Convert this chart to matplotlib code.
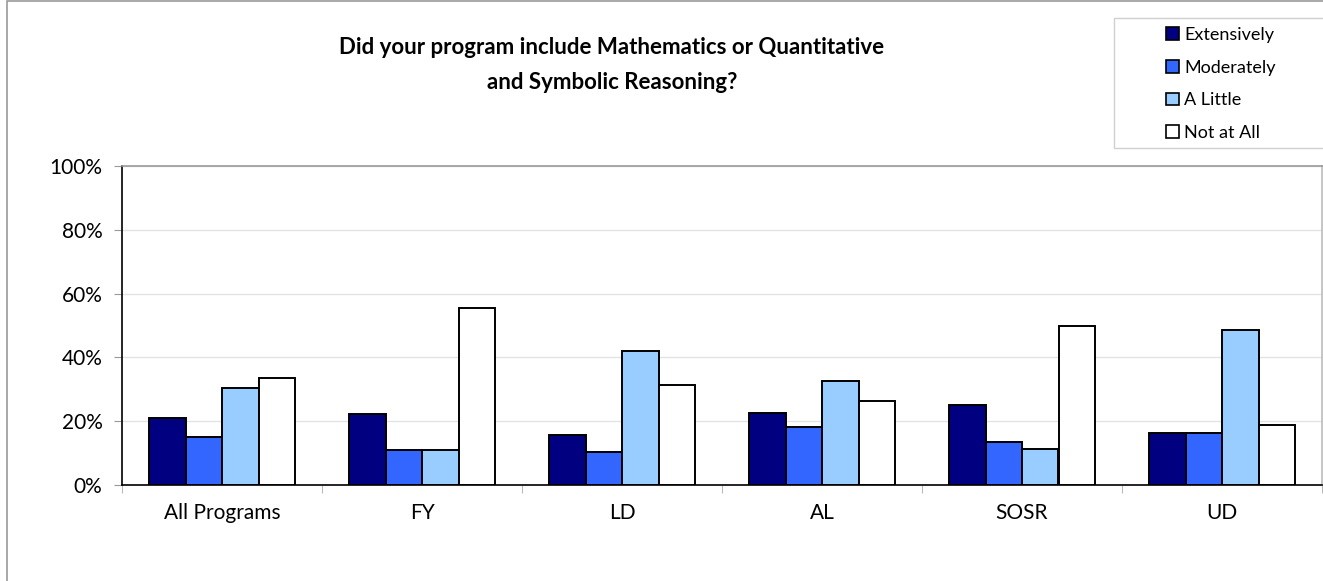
import numpy as np
import matplotlib.pyplot as plt
from matplotlib.patches import Patch

categories = ['All Programs', 'FY', 'LD', 'AL', 'SOSR', 'UD']
extensively = [20.9, 22.3, 15.7, 22.5, 25.0, 16.2]
moderately = [15.1, 11.0, 10.4, 18.3, 13.5, 16.2]
a_little = [30.3, 11.0, 42.1, 32.7, 11.3, 48.6]
not_at_all = [33.4, 55.4, 31.4, 26.4, 49.9, 18.8]

series = [
    ('Extensively', extensively, '#000080'),
    ('Moderately', moderately, '#3366FF'),
    ('A Little', a_little, '#99CCFF'),
    ('Not at All', not_at_all, '#FFFFFF'),
]

plt.rcParams['font.family'] = ['Lato', 'DejaVu Sans']

W, H = 1323, 581
fig = plt.figure(figsize=(W / 100, H / 100), dpi=100)
ax = fig.add_axes([122 / W, 1 - 485 / H, 1200 / W, 319 / H])

x = np.arange(len(categories))
w = 0.1825
for i, (name, vals, col) in enumerate(series):
    ax.bar(x + (i - 1.5) * w, vals, w, color=col, edgecolor='black',
           linewidth=1.4, label=name, zorder=3)

ax.set_xlim(-0.5, len(categories) - 0.5)
ax.set_ylim(0, 100)
ax.set_yticks(range(0, 101, 20))
ax.set_yticklabels([f'{v}%' for v in range(0, 101, 20)], fontsize=15)
ax.set_xticks(x)
ax.set_xticklabels(categories, fontsize=15)
ax.set_xticks(np.arange(-0.5, len(categories)), minor=True)
ax.tick_params(axis='x', which='major', length=0, pad=13)
ax.tick_params(axis='x', which='minor', length=6, color='#aaaaaa')
ax.tick_params(axis='y', length=6, color='#999999', pad=8)
ax.grid(axis='y', color='#e3e3e3', linewidth=1, zorder=0)

ax.spines['left'].set_color('black')
ax.spines['bottom'].set_color('black')
ax.spines['top'].set_color('#999999')
ax.spines['right'].set_color('#bbbbbb')
for s in ax.spines.values():
    s.set_linewidth(1.2)

fig.text(612 / W, 1 - 65 / H,
         'Did your program include Mathematics or Quantitative\nand Symbolic Reasoning?',
         ha='center', va='center', fontsize=16, fontweight='bold', linespacing=1.85)

# legend box
fig.patches.append(plt.Rectangle((1114 / W, 1 - 148 / H), 0.2, 130 / H,
                                 transform=fig.transFigure, facecolor='white',
                                 edgecolor='#d0d0d0', linewidth=1))
handles = [Patch(facecolor=c, edgecolor='black', linewidth=1.2, label=n)
           for n, _, c in series]
leg = fig.legend(handles=handles, loc='upper left',
                 bbox_to_anchor=(1166 / W, 1 - 27 / H),
                 frameon=False, fontsize=13,
                 handlelength=0.7, handleheight=0.7, handletextpad=0.3,
                 labelspacing=0.92, borderpad=0, borderaxespad=0)

# outer chart border
fig.patches.append(plt.Rectangle((7 / W, -0.01), 1.02, 1 - 1 / H + 0.01,
                                 transform=fig.transFigure, fill=False,
                                 edgecolor='#999999', linewidth=1.2))

fig.savefig('out.png', dpi=100)
